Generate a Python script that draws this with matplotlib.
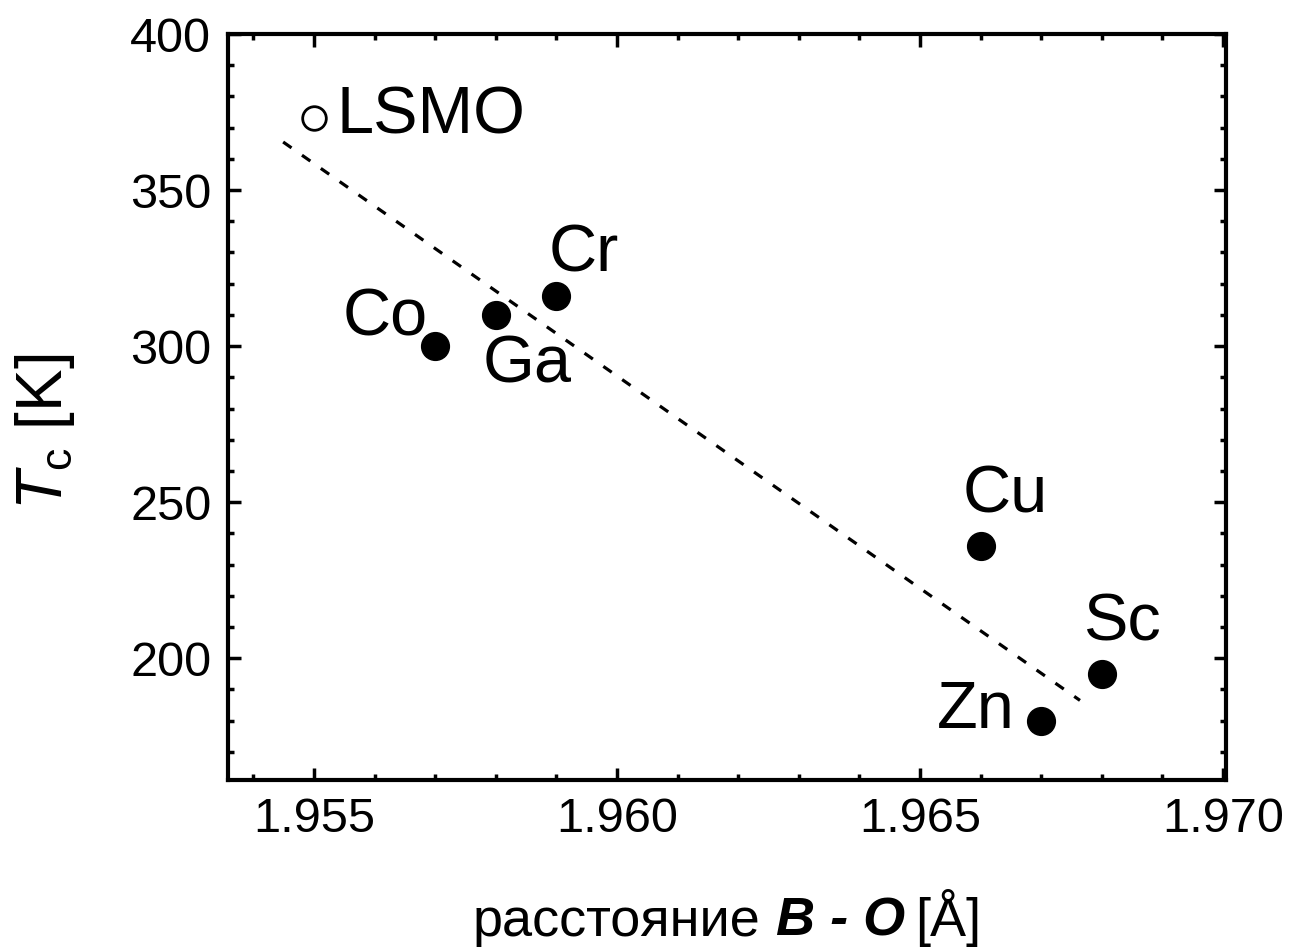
import matplotlib
matplotlib.use("Agg")
import matplotlib.pyplot as plt
from matplotlib.ticker import MultipleLocator, FormatStrFormatter
from matplotlib.offsetbox import TextArea, HPacker, AnchoredOffsetbox

plt.rcParams['font.family'] = ['Liberation Sans', 'DejaVu Sans']
plt.rcParams['mathtext.fontset'] = 'custom'
plt.rcParams['mathtext.rm'] = 'Liberation Sans'
plt.rcParams['mathtext.it'] = 'Liberation Sans:italic'

# --- data ---
names = ['Co', 'Ga', 'Cr', 'Cu', 'Zn', 'Sc']
bo_dist = [1.957, 1.958, 1.959, 1.966, 1.967, 1.968]
tc = [300, 310, 316, 236, 180, 195]
lsmo_x, lsmo_y = 1.955, 373
fit_x = [1.95449, 1.96764]
fit_y = [365.4, 186.5]

# label placement (pixels from point, ha)
label_off = {
    'Co': (-7, 28, 'right'),
    'Ga': (31, -51, 'center'),
    'Cr': (27, 42, 'center'),
    'Cu': (25, 50, 'center'),
    'Zn': (-26, 10, 'right'),
    'Sc': (20, 50, 'center'),
}

fig = plt.figure(figsize=(13.04, 9.51), dpi=100)
ax = fig.add_axes([228/1304, 1 - 780/951, (1226-228)/1304, (780-34)/951])

ax.plot(fit_x, fit_y, ls=(0, (3.2, 4)), color='black', lw=2.3)
ax.plot(bo_dist, tc, 'o', color='black', ms=20, ls='none')
ax.plot([lsmo_x], [lsmo_y], 'o', mfc='white', mec='black', mew=2, ms=17)

ax.annotate('LSMO', (lsmo_x, lsmo_y), xytext=(22, 2), textcoords='offset pixels',
            ha='left', va='center', fontsize=48)
for n, x, y in zip(names, bo_dist, tc):
    dx, dy, ha = label_off[n]
    ax.annotate(n, (x, y), xytext=(dx, dy), textcoords='offset pixels',
                ha=ha, va='center', fontsize=48)

ax.set_xlim(1.95358, 1.97005)
ax.set_ylim(161, 400)
ax.xaxis.set_major_locator(MultipleLocator(0.005))
ax.xaxis.set_minor_locator(MultipleLocator(0.001))
ax.xaxis.set_major_formatter(FormatStrFormatter('%.3f'))
ax.yaxis.set_major_locator(MultipleLocator(50))
ax.yaxis.set_minor_locator(MultipleLocator(10))

for s in ax.spines.values():
    s.set_linewidth(3)
ax.tick_params(which='both', direction='in', top=True, right=True, width=2.5,
               labelsize=35, colors='black')
ax.tick_params(which='major', length=9, pad=12)
ax.tick_params(which='minor', length=4.5)

# x label: regular / bold italic / regular pieces
fs = 39
name_box = HPacker(children=[
    TextArea('расстояние', textprops=dict(fontsize=fs)),
    TextArea('B - O', textprops=dict(fontsize=fs, fontweight='bold', fontstyle='italic')),
], align='baseline', pad=0, sep=11)
parts = HPacker(children=[name_box, TextArea('[Å]', textprops=dict(fontsize=fs))],
                align='baseline', pad=0, sep=7)
xlab = AnchoredOffsetbox(loc='center', child=parts, pad=0, borderpad=0, frameon=False,
                         bbox_to_anchor=(727/1304, 1 - 918/951),
                         bbox_transform=fig.transFigure)
ax.add_artist(xlab)

ax.set_ylabel('$T_{\\mathrm{c}}$ [K]', fontsize=46)
ax.yaxis.set_label_coords(-0.151, 0.4665)

fig.savefig('out.png', dpi=100)
